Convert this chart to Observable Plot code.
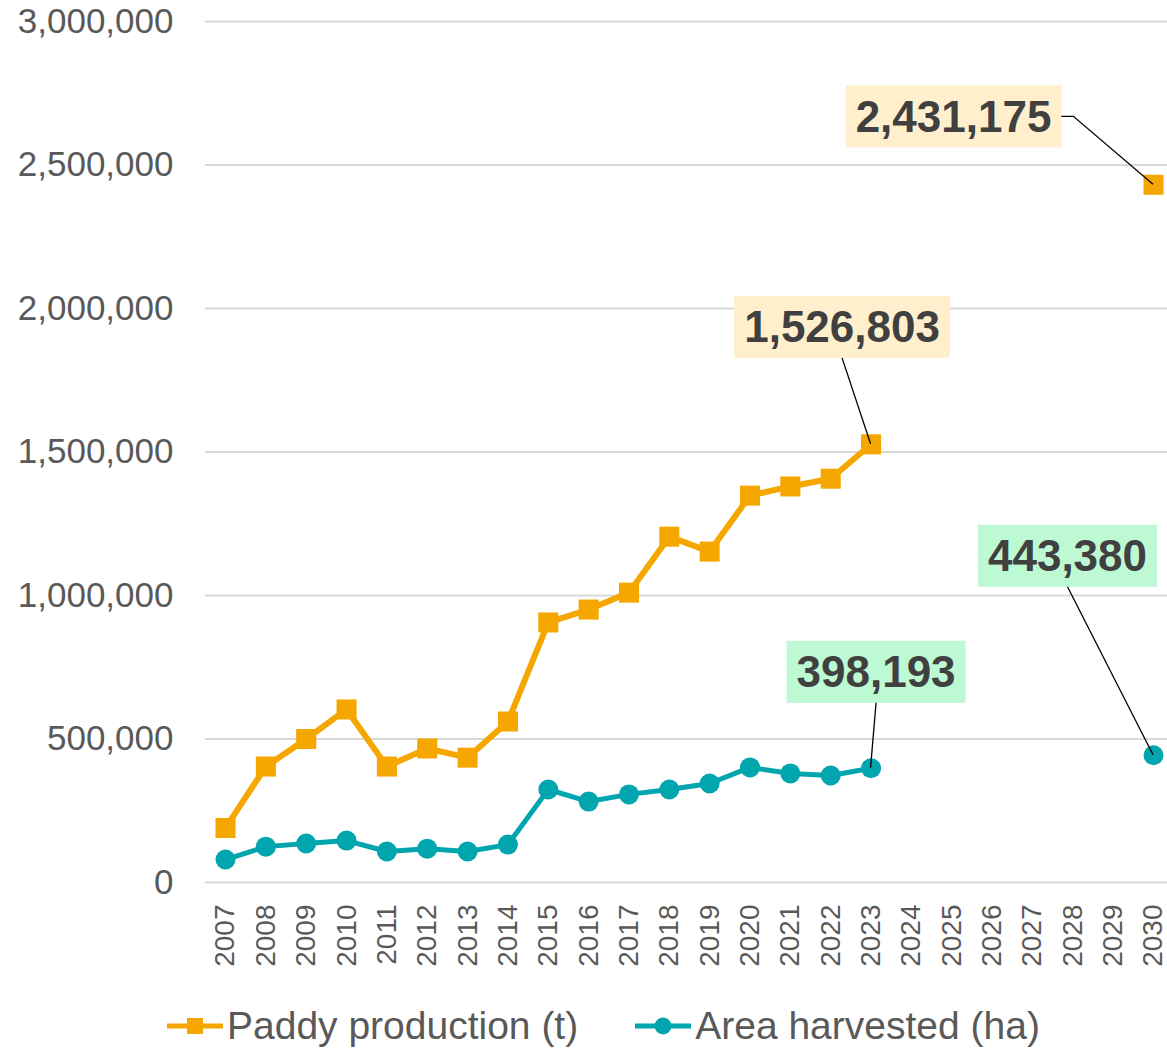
<!DOCTYPE html>
<html>
<head>
<meta charset="utf-8">
<script src="https://cdn.jsdelivr.net/npm/d3@7"></script>
<script src="https://cdn.jsdelivr.net/npm/@observablehq/plot@0.6"></script>
<style>
  html, body { margin: 0; padding: 0; background: #fff; }
  #chart svg { display: block; }
  #legend { display: flex; align-items: center; height: 52px; padding-left: 167px;
            font-family: "Liberation Sans", Arial, sans-serif; font-size: 39px; color: #595959; }
  #legend .item { display: flex; align-items: center; }
  #legend svg { display: block; }
</style>
</head>
<body>
<div id="chart"></div>
<div id="legend"></div>
<script>
// ---- Data ----
const years = [2007, 2008, 2009, 2010, 2011, 2012, 2013, 2014, 2015, 2016, 2017, 2018, 2019, 2020, 2021, 2022, 2023];
const paddyProduction = [190000, 404000, 500000, 603000, 404000, 467000, 435000, 561000, 906000, 951000, 1010000, 1205000, 1153000, 1348000, 1380000, 1407000, 1526803];
const areaHarvested = [80000, 125000, 136000, 146000, 108000, 118000, 108000, 132000, 324000, 282000, 307000, 324000, 345000, 401000, 380000, 373000, 398193];
const projectionYear = 2030;
const paddyProjection = 2431175;
const areaProjection = 443380;
const xTickYears = [2007, 2008, 2009, 2010, 2011, 2012, 2013, 2014, 2015, 2016, 2017, 2018, 2019, 2020, 2021, 2022, 2023, 2024, 2025, 2026, 2027, 2028, 2029, 2030];
const yTicks = [0, 500000, 1000000, 1500000, 2000000, 2500000, 3000000];
const seriesNames = ["Paddy production (t)", "Area harvested (ha)"];

// ---- Styles ----
const ORANGE = "#F5A700";
const TEAL = "#00A5AD";
const fmt = d3.format(",");

const paddyRows = years.map((y, i) => ({year: y, value: paddyProduction[i]}));
const areaRows = years.map((y, i) => ({year: y, value: areaHarvested[i]}));
const paddyProj = [{year: projectionYear, value: paddyProjection}];
const areaProj = [{year: projectionYear, value: areaProjection}];

// annotations: data point + layout (offsets, box colour, leader style)
const annos = [
  {year: years[years.length - 1], value: paddyProduction[paddyProduction.length - 1], dx: -29, dy: -116, bg: "#FFEFCC", leader: "bottom"},
  {year: projectionYear, value: paddyProjection, dx: -200, dy: -67, bg: "#FFEFCC", leader: "right"},
  {year: years[years.length - 1], value: areaHarvested[areaHarvested.length - 1], dx: 5, dy: -95, bg: "#BDF9D3", leader: "bottom"},
  {year: projectionYear, value: areaProjection, dx: -86, dy: -198, bg: "#BDF9D3", leader: "bottom"}
];

const chart = Plot.plot({
  width: 1167,
  height: 1000,
  marginLeft: 225,
  marginRight: 14,
  marginTop: 21,
  marginBottom: 118,
  x: {type: "linear", domain: [2007, 2030]},
  y: {type: "linear", domain: [0, 3000000]},
  style: {fontFamily: "'Liberation Sans', Arial, sans-serif", background: "#fff", overflow: "visible"},
  marks: [
    Plot.ruleY(yTicks, {stroke: "#D9D9D9", strokeWidth: 2, insetLeft: -20, insetRight: -14}),
    Plot.axisY(yTicks, {tickSize: 0, tickPadding: 52, tickFormat: fmt, fontSize: 35, fill: "#595959", label: null}),
    Plot.axisX(xTickYears, {tickSize: 0, tickPadding: 22, tickRotate: -90, tickFormat: d => String(d), fontSize: 28, fill: "#595959", label: null}),
    Plot.line(paddyRows, {x: "year", y: "value", stroke: ORANGE, strokeWidth: 6}),
    Plot.line(areaRows, {x: "year", y: "value", stroke: TEAL, strokeWidth: 5}),
    Plot.dot(paddyRows.concat(paddyProj), {x: "year", y: "value", symbol: "square", r: 11.3, fill: ORANGE, stroke: "none"}),
    Plot.dot(areaRows.concat(areaProj), {x: "year", y: "value", symbol: "circle", r: 10, fill: TEAL, stroke: "none"}),
    ...annos.map(a => Plot.text([a], {
      x: "year", y: "value", text: d => fmt(d.value),
      dx: a.dx, dy: a.dy, fontSize: 44, fontWeight: "bold", fill: "#404040"
    }))
  ]
});

document.getElementById("chart").appendChild(chart);

// ---- label boxes and leader lines (positions derived from rendered text and the plot scales) ----
const xs = chart.scale("x"), ys = chart.scale("y");
const ns = "http://www.w3.org/2000/svg";
const textGroups = chart.querySelectorAll('g[aria-label="text"]');
const boxG = document.createElementNS(ns, "g");
const leaderG = document.createElementNS(ns, "g");
if (textGroups.length) chart.insertBefore(boxG, textGroups[0]);
chart.appendChild(leaderG);
const svgRect = chart.getBoundingClientRect();
annos.forEach((a, i) => {
  const g = textGroups[i];
  if (!g) return;
  const t = g.querySelector("text");
  const r = t.getBoundingClientRect();
  const bx = r.left - svgRect.left, by = r.top - svgRect.top;
  const cy = by + r.height / 2;
  const rx = bx - 10, rw = r.width + 20, ry = cy - 31, rh = 62;
  const rect = document.createElementNS(ns, "rect");
  rect.setAttribute("x", rx); rect.setAttribute("y", ry);
  rect.setAttribute("width", rw); rect.setAttribute("height", rh);
  rect.setAttribute("fill", a.bg);
  boxG.appendChild(rect);
  const px = xs.apply(a.year), py = ys.apply(a.value);
  const path = document.createElementNS(ns, "path");
  let d;
  if (a.leader === "right") {
    const sx = rx + rw, sy = ry + rh / 2;
    d = `M${sx},${sy}H${sx + 12}L${px},${py}`;
  } else {
    const sx = rx + rw / 2, sy = ry + rh;
    d = `M${sx},${sy}L${px},${py}`;
  }
  path.setAttribute("d", d);
  path.setAttribute("fill", "none");
  path.setAttribute("stroke", "#000");
  path.setAttribute("stroke-width", 1.3);
  leaderG.appendChild(path);
});

// ---- legend ----
const legend = document.getElementById("legend");
const legendItems = [
  {name: seriesNames[0], color: ORANGE, symbol: "square"},
  {name: seriesNames[1], color: TEAL, symbol: "circle"}
];
legendItems.forEach((it, i) => {
  const item = document.createElement("div");
  item.className = "item";
  if (i > 0) item.style.marginLeft = "57px";
  const marker = it.symbol === "square"
    ? `<rect x="20" y="7" width="16" height="16" fill="${it.color}"/>`
    : `<circle cx="28" cy="15" r="8.5" fill="${it.color}"/>`;
  item.innerHTML = `<svg width="56" height="30"><line x1="0" x2="56" y1="15" y2="15" stroke="${it.color}" stroke-width="5" stroke-linecap="round"/>${marker}</svg><span style="margin-left:4px">${it.name}</span>`;
  legend.appendChild(item);
});
</script>
</body>
</html>
